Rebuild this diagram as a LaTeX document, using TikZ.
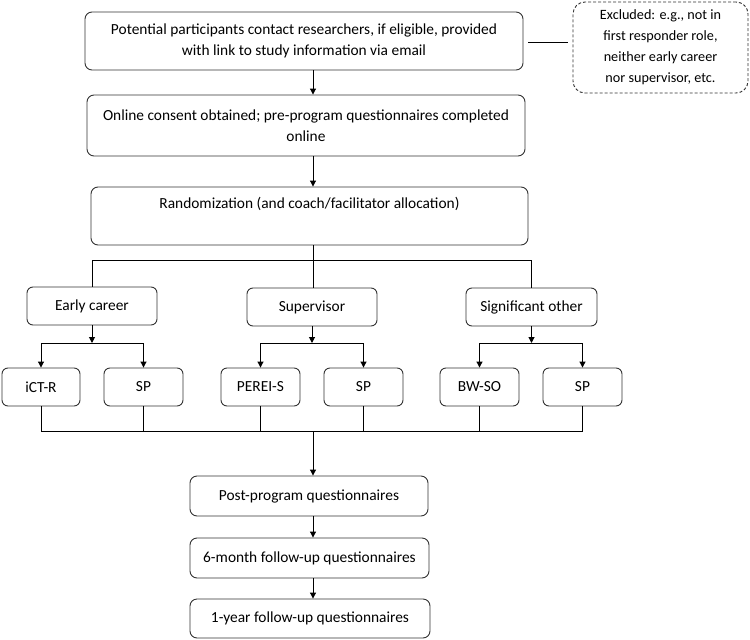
\documentclass[tikz,border=0pt]{standalone}
\usepackage{fontspec}
\setmainfont{Carlito}
\usetikzlibrary{arrows.meta}
\begin{document}
\begin{tikzpicture}[x=1pt,y=-1pt,
  box/.style={draw=black!80, line width=0.9pt, rounded corners=7pt, inner sep=0pt, align=center,
    font=\fontsize{15.4}{20.5}\selectfont},
  small/.style={box, rounded corners=6pt, minimum height=38pt},
  conn/.style={draw=black, line width=1pt},
  arr/.style={conn, -{Triangle[length=6pt,width=6pt]}}
]
\useasboundingbox (0,0) rectangle (750,640);

\node[box, minimum width=438pt, minimum height=58pt] (top) at (304,41)
  {Potential participants contact researchers, if eligible, provided\\with link to study information via email};
\node[box, dashed, dash pattern=on 3pt off 2pt, rounded corners=12pt, minimum width=175pt, minimum height=91pt,
  font=\fontsize{14.2}{21}\selectfont] (excl) at (660.5,47.5)
  {Excluded: e.g., not in\\first responder role,\\neither early career\\nor supervisor, etc.};
\node[box, minimum width=438pt, minimum height=61pt] (cons) at (306,125.5)
  {Online consent obtained; pre-program questionnaires completed\\online};
\node[box, minimum width=437pt, minimum height=58pt] (rand) at (309.5,216)
  {Randomization (and coach/facilitator allocation)\\\strut};

\node[small, minimum width=130pt] (early) at (92,306) {Early career};
\node[small, minimum width=130pt] (sup) at (312,307) {Supervisor};
\node[small, minimum width=131pt] (sig) at (531.5,307) {Significant other};

\node[small, minimum width=78pt] (ict) at (41,387) {iCT-R};
\node[small, minimum width=79pt] (sp1) at (143.5,387) {SP};
\node[small, minimum width=79pt] (perei) at (260.5,387) {PEREI-S};
\node[small, minimum width=79pt] (sp2) at (363.5,387) {SP};
\node[small, minimum width=79pt] (bwso) at (479.5,387) {BW-SO};
\node[small, minimum width=79pt] (sp3) at (582.5,387) {SP};

\node[box, minimum width=238pt, minimum height=40pt] (post) at (309,496) {Post-program questionnaires};
\node[box, minimum width=239pt, minimum height=40pt] (six) at (309.5,558) {6-month follow-up questionnaires};
\node[box, minimum width=240pt, minimum height=39pt] (year) at (310,618.5) {1-year follow-up questionnaires};

\coordinate (sp) at (313,0);
\coordinate (hA) at (0,260);
\coordinate (hB) at (0,343);
\coordinate (hC) at (0,431);

% top connectors
\draw[conn, shorten <=5pt, shorten >=5pt] (top.east |- 0,42) -- (excl.west |- 0,42);
\draw[arr] (top.south -| sp) -- (cons.north -| sp);
\draw[arr] (cons.south -| sp) -- (rand.north -| sp);

% split to three groups
\draw[conn] (rand.south -| sp) -- (sup.north -| sp);
\draw[conn] (early.north) -- (early.north |- hA) -- (sig.north |- hA) -- (sig.north);

% group splits
\draw[arr] (early.south) -- (early.south |- hB);
\draw[arr] (ict.north |- hB) -- (ict.north);
\draw[arr] (sp1.north |- hB) -- (sp1.north);
\draw[conn] (ict.north |- hB) -- (sp1.north |- hB);

\draw[arr] (sup.south) -- (sup.south |- hB);
\draw[arr] (perei.north |- hB) -- (perei.north);
\draw[arr] (sp2.north |- hB) -- (sp2.north);
\draw[conn] (perei.north |- hB) -- (sp2.north |- hB);

\draw[arr] (sig.south) -- (sig.south |- hB);
\draw[arr] (bwso.north |- hB) -- (bwso.north);
\draw[arr] (sp3.north |- hB) -- (sp3.north);
\draw[conn] (bwso.north |- hB) -- (sp3.north |- hB);

% merge
\draw[conn] (ict.south) -- (ict.south |- hC) -- (sp3.south |- hC) -- (sp3.south);
\foreach \n in {sp1,perei,sp2,bwso} \draw[conn] (\n.south) -- (\n.south |- hC);
\draw[arr] (sp |- hC) -- (post.north -| sp);
\draw[arr] (post.south -| sp) -- (six.north -| sp);
\draw[arr] (six.south -| sp) -- (year.north -| sp);
\end{tikzpicture}
\end{document}
